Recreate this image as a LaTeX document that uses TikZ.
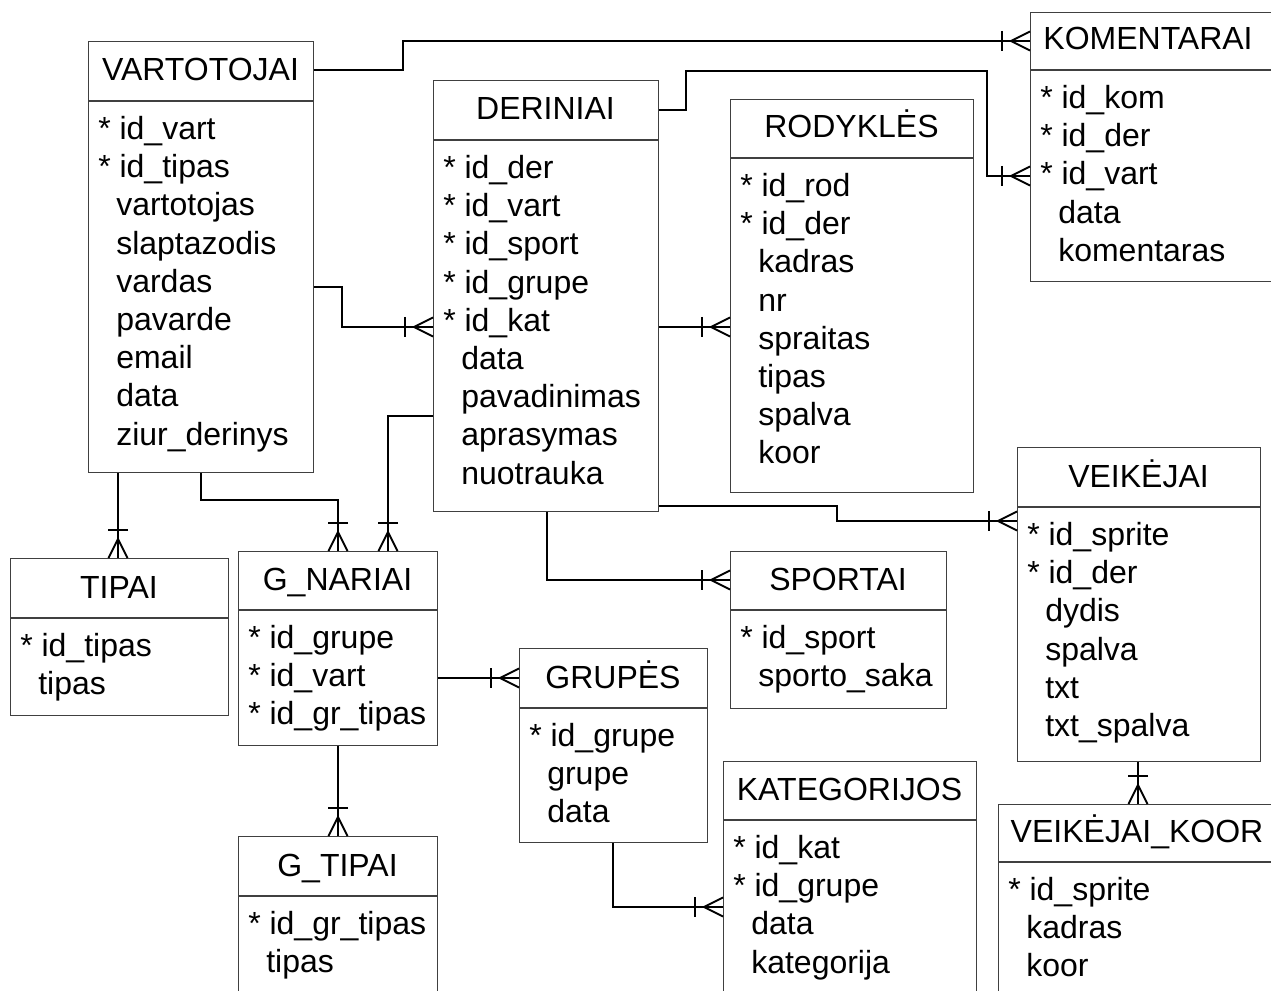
\documentclass[tikz,border=0pt]{standalone}
\usepackage{fontspec}
\setmainfont{Liberation Sans}
\usetikzlibrary{calc}
\tikzset{
  ent/.style={draw=black!75, line width=0.8pt, inner sep=0pt, anchor=north west},
  sepline/.style={draw=black!75, line width=0.8pt},
  lbl/.style={inner sep=0pt, anchor=base, font=\fontsize{24}{28}\selectfont},
  fld/.style={inner sep=0pt, anchor=base west, font=\fontsize{24}{28}\selectfont},
  conn/.style={line width=1.4pt, black},
  pics/crow/.style={code={
    \draw[conn] (-28,-10) -- (-28,10);
    \draw[conn] (0,-9.5) -- (-19,0) -- (0,9.5);
  }},
}
\newcommand\keyrow[1]{*~#1}
\newcommand\datarow[1]{\hspace*{13.5pt}#1}
% name, x, y, w, h, header height, title, title centre offset, fields
\newcommand\entity[9]{%
  \node[ent, minimum width=#4*0.75pt, minimum height=#5*0.75pt] (#1) at (#2,#3) {};
  \draw[sepline] ($(#1.north west)+(0,#6)$) -- ($(#1.north east)+(0,#6)$);
  \node[lbl] (#1-t) at ($(#1.north west)+(#8,#6-20)$) {#7};
  \foreach \f [count=\i] in {#9}
    \node[fld] (#1-\i) at ($(#1.north west)+(10,#6+38.5+38.2*\i-38.2)$) {\f};
}
\begin{document}
\begin{tikzpicture}[x=0.75pt, y=-0.75pt]
\useasboundingbox (0,0) rectangle (1271,991);
\fill[white] (0,0) rectangle (1271,991);
\clip (0,0) rectangle (1271,991);

\entity{vart}{88}{41}{225}{431}{60}{VARTOTOJAI}{112.5}{\keyrow{id\_vart},\keyrow{id\_tipas},\datarow{vartotojas},\datarow{slaptazodis},\datarow{vardas},\datarow{pavarde},\datarow{email},\datarow{data},\datarow{ziur\_derinys}}
\entity{der}{433}{80}{225}{431}{60}{DERINIAI}{112.5}{\keyrow{id\_der},\keyrow{id\_vart},\keyrow{id\_sport},\keyrow{id\_grupe},\keyrow{id\_kat},\datarow{data},\datarow{pavadinimas},\datarow{aprasymas},\datarow{nuotrauka}}
\entity{rod}{730}{99}{243}{393}{59}{RODYKLĖS}{121.5}{\keyrow{id\_rod},\keyrow{id\_der},\datarow{kadras},\datarow{nr},\datarow{spraitas},\datarow{tipas},\datarow{spalva},\datarow{koor}}
\entity{kom}{1030}{12}{260}{269}{58}{KOMENTARAI}{118}{\keyrow{id\_kom},\keyrow{id\_der},\keyrow{id\_vart},\datarow{data},\datarow{komentaras}}
\entity{vei}{1017}{447}{243}{314}{60}{VEIKĖJAI}{121.5}{\keyrow{id\_sprite},\keyrow{id\_der},\datarow{dydis},\datarow{spalva},\datarow{txt},\datarow{txt\_spalva}}
\entity{koor}{998}{804}{290}{230}{58}{VEIKĖJAI\_KOOR}{139}{\keyrow{id\_sprite},\datarow{kadras},\datarow{koor}}
\entity{tip}{10}{558}{218}{157}{60}{TIPAI}{109}{\keyrow{id\_tipas},\datarow{tipas}}
\entity{gn}{238}{551}{199}{194}{59}{G\_NARIAI}{99.5}{\keyrow{id\_grupe},\keyrow{id\_vart},\keyrow{id\_gr\_tipas}}
\entity{gt}{238}{836}{199}{200}{60}{G\_TIPAI}{99.5}{\keyrow{id\_gr\_tipas},\datarow{tipas}}
\entity{gru}{519}{648}{188}{194}{60}{GRUPĖS}{94}{\keyrow{id\_grupe},\datarow{grupe},\datarow{data}}
\entity{spo}{730}{551}{216}{157}{59}{SPORTAI}{108}{\keyrow{id\_sport},\datarow{sporto\_saka}}
\entity{kat}{723}{761}{253}{250}{59}{KATEGORIJOS}{126.5}{\keyrow{id\_kat},\keyrow{id\_grupe},\datarow{data},\datarow{kategorija}}

% connectors
\draw[conn] (vart.east |- 0,70) -- (403,70) -- (403,41) -- (kom.west |- 0,41);
\pic at (kom.west |- 0,41) {crow};
\draw[conn] (der.east |- 0,110) -- (686,110) -- (686,71) -- (987,71) -- (987,176) -- (kom.west |- 0,176);
\pic at (kom.west |- 0,176) {crow};
\draw[conn] (vart.east |- 0,287) -- (342,287) -- (342,327) -- (der.west |- 0,327);
\pic at (der.west |- 0,327) {crow};
\draw[conn] (der.east |- 0,327) -- (rod.west |- 0,327);
\pic at (rod.west |- 0,327) {crow};
\draw[conn] (der.east |- 0,506) -- (837,506) -- (837,521) -- (vei.west |- 0,521);
\pic at (vei.west |- 0,521) {crow};
\draw[conn] (der.south -| 547,0) -- (547,580) -- (spo.west |- 0,580);
\pic at (spo.west |- 0,580) {crow};
\draw[conn] (vart.south -| 118,0) -- (tip.north -| 118,0);
\pic[rotate=-90] at (tip.north -| 118,0) {crow};
\draw[conn] (vart.south -| 201,0) -- (201,500) -- (338,500) -- (gn.north -| 338,0);
\pic[rotate=-90] at (gn.north -| 338,0) {crow};
\draw[conn] (der.west |- 0,416) -- (388,416) -- (gn.north -| 388,0);
\pic[rotate=-90] at (gn.north -| 388,0) {crow};
\draw[conn] (gn.east |- 0,678) -- (gru.west |- 0,678);
\pic at (gru.west |- 0,678) {crow};
\draw[conn] (gn.south -| 338,0) -- (gt.north -| 338,0);
\pic[rotate=-90] at (gt.north -| 338,0) {crow};
\draw[conn] (gru.south -| 613,0) -- (613,907) -- (kat.west |- 0,907);
\pic at (kat.west |- 0,907) {crow};
\draw[conn] (vei.south -| 1138,0) -- (koor.north -| 1138,0);
\pic[rotate=-90] at (koor.north -| 1138,0) {crow};
\end{tikzpicture}
\end{document}
